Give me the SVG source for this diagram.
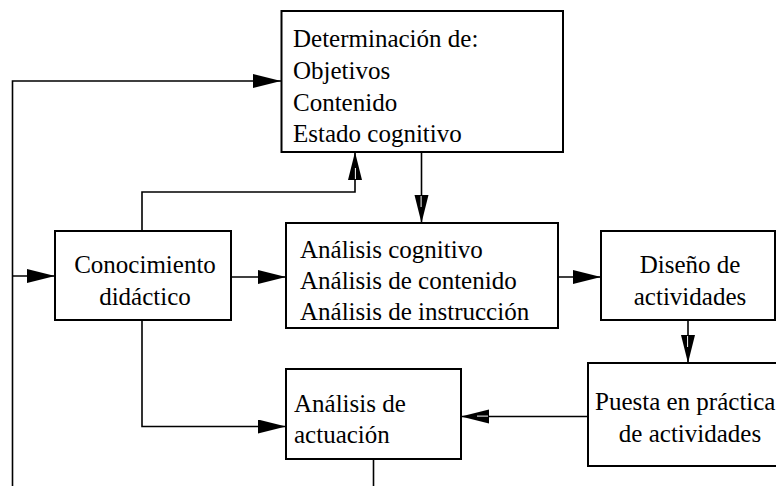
<svg xmlns="http://www.w3.org/2000/svg" width="776" height="486" viewBox="0 0 776 486">
<style>
.box{fill:#fff;stroke:#000;stroke-width:2}
.ln{fill:none;stroke:#000;stroke-width:1.6}
.c{text-anchor:middle}
</style>
<defs>
<marker id="a" markerUnits="userSpaceOnUse" markerWidth="30" markerHeight="16" refX="28" refY="7" orient="auto" viewBox="0 0 30 16">
<polygon points="0,0 28,7 0,14" fill="#000"/>
</marker>
<marker id="b" markerUnits="userSpaceOnUse" markerWidth="30" markerHeight="16" refX="28" refY="7" orient="auto" viewBox="0 0 30 16">
<polygon points="0,0 28,7 0,14" fill="#000"/>
<line x1="1" y1="7.4" x2="12" y2="7.4" stroke="#fff" stroke-width="1"/>
</marker>
</defs>
<g id="connectors">
<path class="ln" d="M12.5,486 V81 H281" marker-end="url(#a)"/>
<path class="ln" d="M12.5,276 H55" marker-end="url(#a)"/>
<path class="ln" d="M142,231 V192 H355 V152" marker-end="url(#b)"/>
<path class="ln" d="M421.5,152 V223" marker-end="url(#b)"/>
<path class="ln" d="M231,277 H286" marker-end="url(#a)"/>
<path class="ln" d="M558,277 H601" marker-end="url(#a)"/>
<path class="ln" d="M688,320 V363" marker-end="url(#b)"/>
<path class="ln" d="M588,416.5 H461" marker-end="url(#b)"/>
<path class="ln" d="M142,320 V426.5 H286" marker-end="url(#a)"/>
<path class="ln" d="M373.5,459 V486"/>
</g>
<g font-family="'Liberation Serif', 'Times New Roman', serif" font-size="25" fill="#000">
<g id="determinacion">
<rect class="box" x="281.5" y="11" width="281.5" height="141"/>
<text x="293" y="47">Determinación de:</text>
<text x="293" y="79">Objetivos</text>
<text x="293" y="110.5">Contenido</text>
<text x="293" y="142">Estado cognitivo</text>
</g>
<g id="conocimiento">
<rect class="box" x="55" y="231" width="176" height="89"/>
<text class="c" x="145" y="273">Conocimiento</text>
<text class="c" x="145" y="305">didáctico</text>
</g>
<g id="analisis">
<rect class="box" x="286" y="223" width="272" height="105"/>
<text x="300" y="258">Análisis cognitivo</text>
<text x="300" y="289">Análisis de contenido</text>
<text x="300" y="320">Análisis de instrucción</text>
</g>
<g id="diseno">
<rect class="box" x="601" y="231" width="174" height="89"/>
<text class="c" x="690" y="273">Diseño de</text>
<text class="c" x="690" y="305">actividades</text>
</g>
<g id="puesta">
<rect class="box" x="588" y="363" width="210" height="103"/>
<text x="595" y="410">Puesta en práctica</text>
<text class="c" x="690" y="442">de actividades</text>
</g>
<g id="actuacion">
<rect class="box" x="286" y="369" width="175" height="90"/>
<text x="294" y="412">Análisis de</text>
<text x="294" y="443">actuación</text>
</g>
</g>
</svg>
